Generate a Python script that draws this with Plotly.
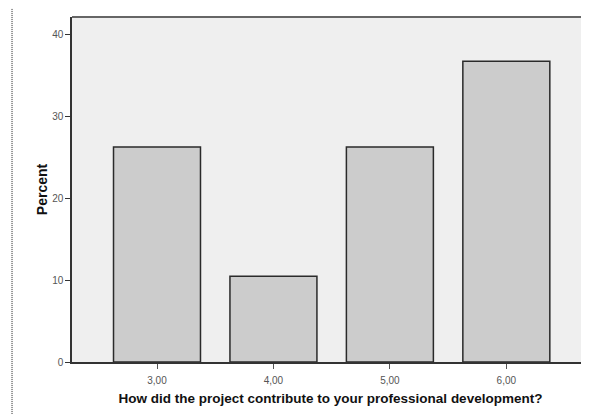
import plotly.graph_objects as go

categories = ["3,00", "4,00", "5,00", "6,00"]
percent = [26.3, 10.5, 26.3, 36.8]
y_ticks = [0, 10, 20, 30, 40]

xpos = list(range(len(categories)))

fig = go.Figure()
fig.add_trace(go.Bar(
    x=xpos, y=percent, width=0.747,
    marker=dict(color="#cccccc", line=dict(color="#2a2a2a", width=1.5)),
    hoverinfo="skip",
))

# page body has an 8px margin, so the figure is offset by 8px
fig.update_layout(
    width=581, height=406,
    margin=dict(l=64, r=0, t=9, b=52),
    paper_bgcolor="white", plot_bgcolor="#efefef",
    showlegend=False,
    font=dict(family="Liberation Sans, Arial, sans-serif", color="#444444"),
    xaxis=dict(
        range=[-0.73, 3.71], tickmode="array", tickvals=xpos, ticktext=categories,
        ticks="outside", ticklen=5, tickcolor="#555555", tickwidth=1,
        ticklabelstandoff=3,
        showgrid=False, zeroline=False, showline=True, linecolor="#333333", linewidth=1.5,
        tickfont=dict(size=10, color="#555555"),
        title=dict(text="<b>How did the project contribute to your professional development?</b>",
                   font=dict(size=13.5, color="#111111"), standoff=9),
    ),
    yaxis=dict(
        range=[0, 42.2], tickmode="array", tickvals=y_ticks,
        ticks="outside", ticklen=5, tickcolor="#333333", tickwidth=1,
        showgrid=False, zeroline=False, showline=True, linecolor="#333333", linewidth=1.5,
        tickfont=dict(size=10, color="#555555"),
        title=dict(text="<b>Percent</b>", font=dict(size=14, color="#111111"), standoff=1),
    ),
)

# top frame line
fig.add_shape(type="line", xref="paper", yref="paper", x0=0, x1=1, y0=1, y1=1,
              line=dict(color="#666666", width=2))
# dotted page border on left
fig.add_shape(type="line", xref="paper", yref="paper", x0=-0.116, x1=-0.116, y0=-0.151, y1=1.026,
              line=dict(color="#222222", width=1, dash="1px,1px"))

fig.write_html("out.html")
